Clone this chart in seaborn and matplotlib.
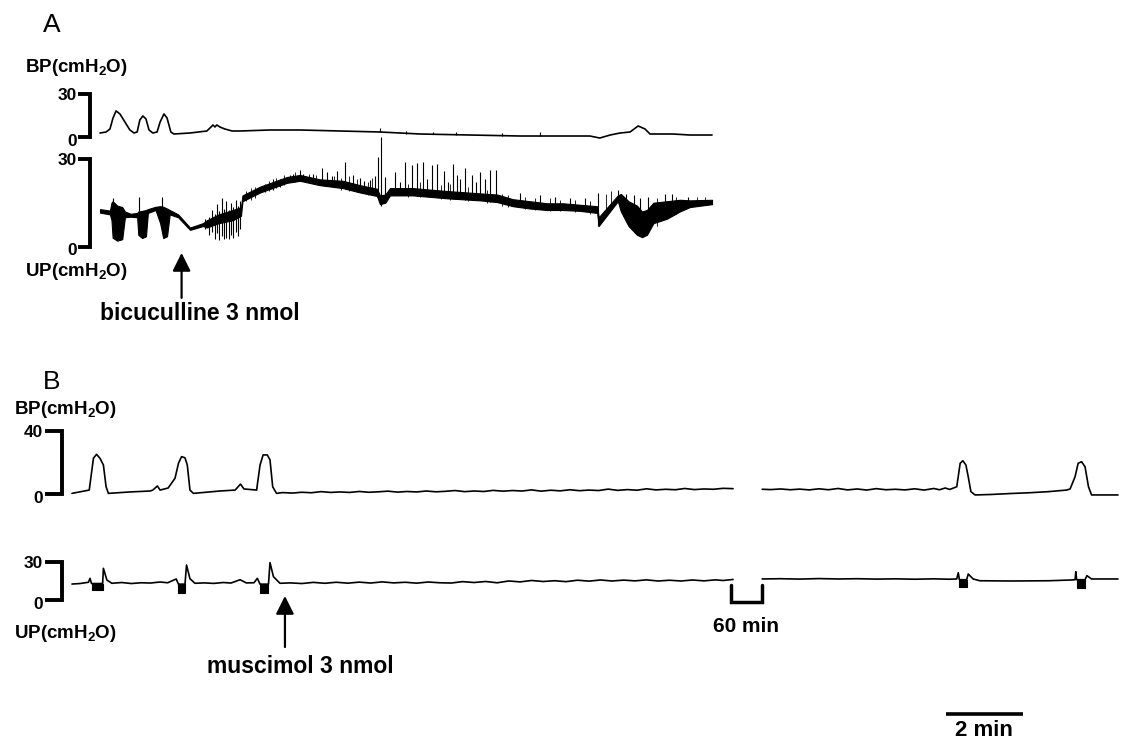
import matplotlib
matplotlib.use('Agg')
import matplotlib.pyplot as plt
import seaborn as sns

# ---------------- panel A (time in min, pressure in cmH2O) ----------------
bpA_t = [0, 0.16, 0.26, 0.34, 0.42, 0.52, 0.65, 0.78, 0.89, 0.97,
         1.04, 1.12, 1.20, 1.28, 1.38, 1.49, 1.57, 1.67, 1.75, 1.85,
         1.93, 2.35, 2.79, 2.90, 2.95, 3.00, 3.05, 3.13, 3.26, 3.45,
         3.66, 4.44, 5.22, 6.27, 7.31, 8.36, 9.66, 10.97, 12.01, 12.79,
         13.05, 13.32, 13.58, 13.84, 14.05, 14.23, 14.36, 14.96, 15.40, 15.98]
bpA_v = [3.0, 3.7, 5.8, 13.5, 18.4, 16.3, 10.7, 5.1, 3.0, 3.7,
         12.1, 14.9, 12.8, 5.1, 3.0, 3.7, 10.7, 16.3, 13.5, 3.7,
         2.3, 3.0, 4.4, 7.2, 8.6, 7.2, 8.6, 7.2, 5.8, 4.4,
         4.4, 5.1, 5.1, 4.4, 3.7, 2.3, 1.6, 0.9, 0.9, 0.9,
         -0.5, 1.6, 3.0, 3.7, 7.9, 5.8, 2.3, 2.3, 1.6, 1.6]
# small ticks on the BP trace: time, low, high
bpA_tick_t = [7.31, 8.00, 8.70, 9.30, 10.50, 11.49]
bpA_tick_lo = [3.7, 2.5, 2.0, 1.8, 1.2, 0.9]
bpA_tick_hi = [6.5, 4.5, 4.0, 3.5, 3.0, 3.9]

# UP trace is a thick noisy band: envelope low / high
upA_t = [0.00, 0.26, 0.30, 0.33, 0.45, 0.58, 0.65, 0.80, 0.97, 1.00,
         1.10, 1.20, 1.25, 1.45, 1.57, 1.65, 1.75, 1.82, 2.04, 2.35,
         2.69, 2.79, 3.10, 3.47, 3.68, 3.72, 4.18, 4.88, 5.22, 5.74,
         6.34, 6.79, 7.23, 7.31, 7.45, 7.57, 8.17, 9.06, 9.92, 10.37,
         10.78, 11.23, 11.67, 12.09, 12.53, 12.98, 13.02, 13.52, 13.60, 13.80,
         14.02, 14.15, 14.28, 14.45, 14.80, 15.14, 15.40, 15.98]
upA_lo = [11.6, 11.0, 9.0, 3.0, 2.0, 2.5, 10.0, 10.2, 10.0, 4.0,
          2.9, 3.5, 11.5, 12.5, 8.0, 2.9, 3.5, 11.0, 10.0, 5.7,
          7.0, 6.5, 8.0, 9.0, 10.5, 15.5, 18.5, 21.8, 22.5, 21.0,
          20.0, 18.5, 17.3, 14.5, 15.0, 17.5, 17.5, 16.5, 15.8, 15.2,
          13.8, 13.0, 12.5, 12.5, 12.2, 11.5, 7.0, 15.5, 12.0, 7.0,
          4.0, 3.2, 4.0, 8.0, 9.5, 12.0, 13.5, 14.5]
upA_hi = [12.8, 12.3, 15.0, 15.5, 14.0, 13.5, 12.0, 11.2, 11.5, 12.0,
          12.2, 12.5, 12.8, 13.6, 13.8, 13.6, 13.0, 12.5, 11.0, 6.5,
          8.0, 9.0, 11.0, 12.5, 13.5, 17.5, 20.5, 23.8, 24.5, 23.0,
          22.5, 21.0, 19.8, 17.5, 17.8, 20.0, 20.0, 19.0, 18.2, 17.8,
          16.2, 15.5, 14.8, 14.8, 14.3, 13.8, 10.0, 17.5, 18.0, 15.5,
          14.0, 12.0, 12.5, 15.0, 15.5, 16.0, 15.8, 16.0]
# spikes on the UP trace: time, low, high
upA_spk_t = [0.34, 1.02, 1.62,
             2.75, 2.85, 2.93, 3.00, 3.06, 3.12, 3.18, 3.24, 3.30, 3.36, 3.42, 3.48, 3.54, 3.60, 3.66,
             4.30, 4.52, 4.70, 4.96, 5.04, 5.22, 5.30, 5.55, 5.80, 5.93, 6.05, 6.19, 6.40, 6.61,
             6.79, 6.90, 7.05, 7.18, 7.26, 7.34, 7.44, 7.70, 7.83, 7.96, 8.15, 8.28, 8.43, 8.54,
             8.67, 8.80, 8.98, 9.09, 9.22, 9.32, 9.40, 9.53, 9.71, 9.82, 9.92, 10.05, 10.18, 10.34,
             10.97, 11.49, 11.88, 12.27, 12.66, 13.00, 13.52, 13.73, 13.94, 14.10, 14.31, 14.75,
             14.93, 15.35]
upA_spk_lo = [13.0, 12.0, 13.0,
              6.0, 4.0, 5.0, 2.5, 4.5, 2.2, 3.5, 2.5, 3.0, 2.4, 4.0, 2.8, 5.0, 3.5, 6.0,
              18.5, 19.5, 20.5, 22.0, 22.0, 22.5, 22.5, 22.0, 21.5, 21.0, 20.8, 20.5, 20.0, 19.5,
              18.5, 18.3, 18.0, 17.5, 17.0, 14.0, 15.5, 17.5, 17.5, 17.5, 17.5, 17.4, 17.3, 17.2,
              17.0, 16.8, 16.6, 16.5, 16.3, 16.2, 16.1, 16.0, 15.9, 15.8, 15.8, 15.6, 15.4, 15.2,
              13.5, 12.8, 12.5, 12.4, 12.0, 7.0, 15.5, 10.0, 6.0, 4.0, 5.0, 9.5,
              10.5, 13.5]
upA_spk_hi = [16.6, 17.0, 17.0,
              9.5, 10.0, 12.5, 11.0, 14.5, 12.0, 16.6, 13.0, 15.5, 12.5, 15.0, 13.5, 16.0, 14.0, 15.5,
              21.5, 23.0, 23.2, 24.5, 25.0, 26.2, 25.0, 24.8, 26.9, 25.5, 24.0, 26.0, 28.9, 24.5,
              23.5, 22.5, 22.8, 24.0, 30.7, 37.5, 23.8, 25.5, 22.0, 28.9, 27.9, 28.6, 28.9, 23.0,
              27.9, 28.3, 25.9, 22.0, 28.3, 24.5, 23.0, 26.9, 24.5, 22.0, 25.5, 23.0, 26.2, 26.2,
              18.3, 17.5, 17.0, 16.5, 16.5, 18.3, 19.3, 18.0, 17.8, 16.5, 17.0, 18.0,
              18.0, 17.0]
# fine hair-like noise along the UP band
upA_hair_t = [3.80, 3.95, 4.05, 4.40, 4.60, 4.80, 5.10, 5.45, 5.65, 6.10,
              6.30, 6.50, 6.70, 7.00, 7.10, 8.05, 8.35, 8.90, 9.15, 9.60,
              10.10, 10.50, 10.65, 11.10, 11.35, 11.75, 12.00, 12.40, 12.80, 13.20,
              13.35, 14.55, 15.05, 15.60, 15.80]
upA_hair_lo = [15.5, 16.0, 16.5, 19.0, 20.0, 21.0, 22.0, 22.0, 21.5, 20.5,
               19.5, 19.0, 18.5, 17.8, 17.5, 17.0, 16.8, 16.3, 16.0, 15.5,
               15.0, 14.0, 13.5, 13.0, 12.5, 12.0, 12.0, 11.8, 11.2, 13.0,
               14.0, 7.0, 11.0, 14.0, 14.2]
upA_hair_hi = [19.0, 20.0, 20.5, 22.5, 23.5, 24.5, 25.5, 25.0, 24.5, 24.0,
               23.5, 24.0, 23.0, 22.0, 23.5, 21.5, 22.0, 21.0, 21.5, 20.5,
               19.5, 18.0, 17.5, 17.0, 16.5, 16.5, 16.0, 16.0, 15.5, 18.0,
               19.0, 16.5, 17.0, 17.0, 16.8]

# ---------------- panel B ----------------
bpB1_t = [0.00, 0.45, 0.56, 0.64, 0.73, 0.82, 0.89, 0.95, 1.51, 2.04,
          2.11, 2.23, 2.30, 2.51, 2.69, 2.78, 2.86, 2.95, 3.01, 3.08,
          3.17, 3.86, 4.26, 4.40, 4.49, 4.82, 4.91, 4.99, 5.10, 5.17,
          5.24, 5.34, 5.50, 5.75, 6.00, 6.25, 6.50, 6.75, 7.00, 7.25,
          7.50, 7.75, 8.00, 8.25, 8.50, 8.75, 9.00, 9.25, 9.50, 9.75,
          10.00, 10.25, 10.50, 10.75, 11.00, 11.25, 11.50, 11.75, 12.00, 12.25,
          12.50, 12.75, 13.00, 13.25, 13.50, 13.75, 14.00, 14.25, 14.50, 14.75,
          15.00, 15.25, 15.50, 15.75, 16.00, 16.25, 16.50, 16.75, 17.00, 17.26]
bpB1_v = [0.4, 2.5, 22.7, 25.2, 22.7, 18.4, 4.6, 0.4, 1.3, 1.9,
          2.5, 5.1, 2.5, 3.8, 10.0, 19.5, 23.7, 23.0, 18.4, 2.5,
          0.4, 1.9, 2.5, 6.3, 3.2, 2.5, 18.4, 24.8, 24.8, 21.6,
          4.6, 0.4, 0.9, 0.6, 1.1, 0.8, 1.5, 1.0, 1.3, 1.0,
          1.6, 1.1, 1.4, 1.8, 1.2, 1.6, 1.3, 1.9, 1.4, 1.7,
          2.2, 1.5, 1.9, 1.6, 2.3, 1.8, 2.2, 1.9, 2.6, 1.8,
          2.4, 2.0, 2.7, 2.1, 2.5, 2.2, 3.1, 2.3, 2.8, 2.4,
          3.3, 2.6, 3.0, 2.7, 3.5, 2.8, 3.2, 3.0, 3.6, 3.4]
bpB2_t = [18.02, 18.25, 18.5, 18.75, 19.0, 19.25, 19.5, 19.75, 20.0, 20.25,
          20.5, 20.75, 21.0, 21.25, 21.5, 21.75, 22.0, 22.25, 22.5, 22.65,
          22.8, 22.92, 23.10, 23.19, 23.26, 23.34, 23.40, 23.47, 23.58, 24.0,
          24.5, 25.0, 25.5, 25.97, 26.06, 26.19, 26.27, 26.36, 26.45, 26.54,
          26.62, 27.31]
bpB2_v = [3.0, 2.8, 3.2, 2.7, 3.1, 2.6, 3.3, 2.7, 3.5, 2.6,
          3.2, 2.5, 3.4, 2.7, 3.0, 2.6, 3.3, 2.5, 3.5, 2.7,
          3.8, 2.9, 4.6, 19.5, 21.1, 18.4, 11.0, 1.5, -0.6, -0.3,
          0.3, 0.8, 1.5, 2.5, 3.2, 11.0, 19.5, 20.5, 17.3, 4.6,
          -0.6, -0.6]

upB1_t = [0.00, 0.21, 0.43, 0.47, 0.51, 0.80, 0.82, 0.91, 1.04, 1.30,
          1.55, 1.80, 2.05, 2.30, 2.50, 2.72, 2.78, 2.95, 2.99, 3.08,
          3.21, 3.45, 3.70, 3.95, 4.15, 4.39, 4.55, 4.75, 4.84, 4.91,
          5.13, 5.17, 5.26, 5.43, 5.7, 6.0, 6.3, 6.6, 6.9, 7.2,
          7.5, 7.8, 8.1, 8.4, 8.7, 9.0, 9.3, 9.6, 9.9, 10.2,
          10.5, 10.8, 11.1, 11.4, 11.7, 12.0, 12.3, 12.6, 12.9, 13.2,
          13.5, 13.8, 14.1, 14.4, 14.7, 15.0, 15.3, 15.6, 15.9, 16.2,
          16.5, 16.8, 17.0, 17.26]
upB1_v = [12.6, 13.0, 14.0, 17.1, 13.0, 13.0, 25.0, 15.8, 13.2, 13.8,
          13.0, 13.6, 13.4, 14.2, 13.6, 16.6, 12.5, 12.5, 27.6, 16.8,
          13.2, 13.5, 13.1, 13.8, 13.4, 16.0, 13.5, 13.6, 17.1, 12.5,
          12.5, 29.5, 18.4, 13.2, 13.5, 13.0, 13.9, 13.2, 14.0, 13.3,
          14.1, 13.4, 14.3, 13.5, 14.0, 13.3, 14.2, 13.6, 13.4, 14.5,
          13.8, 14.6, 13.6, 15.0, 14.3, 15.4, 14.6, 15.2, 14.5, 15.6,
          14.9, 15.8, 15.0, 15.7, 15.1, 15.9, 15.0, 15.6, 15.0, 15.8,
          15.1, 15.9, 15.4, 16.2]
upB2_t = [18.02, 18.5, 19.0, 19.5, 20.0, 20.5, 21.0, 21.5, 22.0, 22.5,
          22.9, 23.10, 23.14, 23.17, 23.36, 23.40, 23.53, 23.70, 24.5, 25.5,
          26.1, 26.19, 26.21, 26.23, 26.45, 26.50, 26.62, 27.31]
upB2_v = [16.6, 16.8, 16.5, 16.9, 16.6, 16.8, 16.5, 16.7, 16.4, 16.7,
          16.4, 16.6, 21.5, 16.0, 16.0, 20.5, 16.6, 15.2, 15.0, 15.2,
          15.8, 16.0, 22.3, 16.0, 16.0, 19.2, 16.6, 16.6]
# contraction blocks under the UP trace: start, end, bottom, top
upB_blk_t0 = [0.51, 2.78, 4.91, 23.17, 26.23]
upB_blk_t1 = [0.80, 2.95, 5.13, 23.36, 26.45]
upB_blk_lo = [7.9, 5.8, 5.8, 10.5, 9.2]
upB_blk_hi = [13.0, 12.5, 12.5, 16.0, 16.0]

break_t = [17.20, 18.02]   # 60 min gap in panel B
bar_t0, bar_len = 22.82, 2  # 2 min scale bar

sns.set_theme(style='white')
plt.rcParams['font.family'] = ['Liberation Sans', 'DejaVu Sans']
plt.rcParams['text.color'] = 'black'
plt.rcParams['mathtext.fontset'] = 'custom'
plt.rcParams['mathtext.rm'] = 'Liberation Sans:bold'
plt.rcParams['mathtext.it'] = 'Liberation Sans:bold'
plt.rcParams['mathtext.bf'] = 'Liberation Sans:bold'
plt.rcParams['mathtext.default'] = 'rm'

W, H = 1124, 740
PX_MIN = 38.3
fig = plt.figure(figsize=(W / 100, H / 100), dpi=100)
fig.patch.set_facecolor('white')
K = 'black'


def trace_axes(t0_px, zero_px, px_unit, lo, hi):
    top = zero_px - hi * px_unit
    bot = zero_px - lo * px_unit
    ax = fig.add_axes([0, 1 - bot / H, 1, (bot - top) / H])
    ax.set_axis_off()
    lims = ((-t0_px / PX_MIN, (W - t0_px) / PX_MIN), (lo, hi))
    return ax, lims


def bracket(ax, x_vert, x_tick, x_text, top, label):
    ax.plot([x_tick, x_vert, x_vert, x_tick], [top, top, 0, 0], color=K, lw=2.8,
            solid_joinstyle='miter', solid_capstyle='butt', clip_on=False)
    num = dict(ha='right', va='center', fontsize=12.5, fontweight='bold',
               textcoords='offset points', annotation_clip=False)
    ax.annotate(label, xy=(x_text, top), xytext=(0, -1), **num)
    ax.annotate('0', xy=(x_text, 0), xytext=(0, -3), **num)


def trace(ax, t, v):
    sns.lineplot(x=t, y=v, ax=ax, color=K, linewidth=1.2, estimator=None, sort=False)


arrow = dict(arrowstyle='-|>,head_length=1.0,head_width=0.5', lw=1.6, color=K,
             shrinkA=0, shrinkB=0, mutation_scale=11)

# panel A
axA1, limA1 = trace_axes(100, 137.3, 1.433, -10, 40)
trace(axA1, bpA_t, bpA_v)
axA1.vlines(bpA_tick_t, bpA_tick_lo, bpA_tick_hi, color=K, lw=0.8)
bracket(axA1, -0.26, -0.57, -0.60, 30, '30')

axA2, limA2 = trace_axes(100, 246.5, 2.92, -30, 42)
axA2.fill_between(upA_t, upA_lo, upA_hi, color=K, lw=0.8)
axA2.vlines(upA_spk_t, upA_spk_lo, upA_spk_hi, color=K, lw=0.8)
axA2.vlines(upA_hair_t, upA_hair_lo, upA_hair_hi, color=K, lw=0.6)
bracket(axA2, -0.26, -0.57, -0.60, 30, '30')
axA2.annotate('', xy=(2.13, -2.2), xytext=(2.13, -17.6), arrowprops=arrow,
              annotation_clip=False)
axA2.text(2.61, -25.2, 'bicuculline 3 nmol', ha='center', va='baseline',
          fontsize=16.5, fontweight='bold')

# panel B
axB1, limB1 = trace_axes(72, 494, 1.575, -10, 45)
trace(axB1, bpB1_t, bpB1_v)
trace(axB1, bpB2_t, bpB2_v)
bracket(axB1, -0.26, -0.70, -0.76, 40, '40')

axB2, limB2 = trace_axes(72, 600, 1.267, -20, 35)
trace(axB2, upB1_t, upB1_v)
trace(axB2, upB2_t, upB2_v)
for t0, t1, lo, hi in zip(upB_blk_t0, upB_blk_t1, upB_blk_lo, upB_blk_hi):
    axB2.fill_between([t0, t1], [lo, lo], [hi, hi], color=K, lw=0.8)
bracket(axB2, -0.26, -0.70, -0.76, 30, '30')
axB2.plot([break_t[0], break_t[0], break_t[1], break_t[1]], [11.8, -1.2, -1.2, 11.8],
          color=K, lw=2.5, solid_joinstyle='miter', clip_on=False)
axB2.text(sum(break_t) / 2, -25.3, '60 min', ha='center', va='baseline',
          fontsize=15, fontweight='bold')
axB2.annotate('', xy=(5.56, 3.2), xytext=(5.56, -37.1), arrowprops=arrow,
              annotation_clip=False)
axB2.text(5.95, -57.6, 'muscimol 3 nmol', ha='center', va='baseline',
          fontsize=16.5, fontweight='bold')
axB2.plot([bar_t0, bar_t0 + bar_len], [-90, -90], color=K, lw=2.6,
          solid_capstyle='butt', clip_on=False)
axB2.text(bar_t0 + bar_len / 2, -107.0, '%d min' % bar_len, ha='center', va='baseline',
          fontsize=16, fontweight='bold')

for ax, (xl, yl) in [(axA1, limA1), (axA2, limA2), (axB1, limB1), (axB2, limB2)]:
    ax.set_xlim(*xl)
    ax.set_ylim(*yl)


# panel letters and channel labels (pixel positions)
def ftext(x, y, s, **kw):
    fig.text(x / W, 1 - y / H, s, **kw)


ftext(52, 25, 'A', ha='center', va='center', fontsize=19)
ftext(52, 382, 'B', ha='center', va='center', fontsize=19)
lab = dict(ha='left', va='center', fontsize=13.5, fontweight='bold')
ftext(25, 68, 'BP(cmH$_2$O)', **lab)
ftext(25, 272, 'UP(cmH$_2$O)', **lab)
ftext(14, 410, 'BP(cmH$_2$O)', **lab)
ftext(14, 633, 'UP(cmH$_2$O)', **lab)

fig.savefig('out.png', dpi=100, facecolor='white')
